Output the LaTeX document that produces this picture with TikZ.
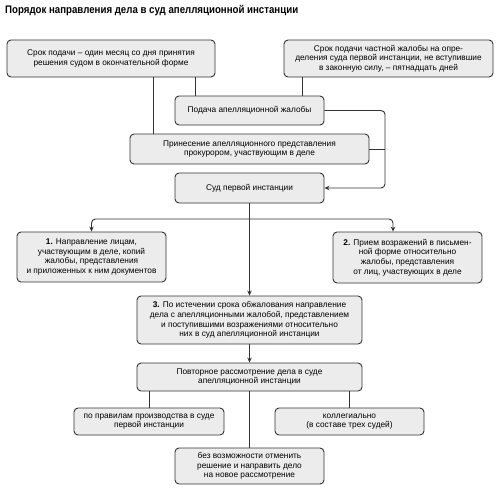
\documentclass[tikz,border=0pt]{standalone}
\usepackage{fontspec}
\setmainfont{Liberation Sans}
\usetikzlibrary{arrows.meta}
\definecolor{boxfill}{HTML}{ECECEC}
\definecolor{boxline}{HTML}{333333}
\tikzset{
  box/.style={draw=boxline, fill=boxfill, line width=0.9pt, rounded corners=4pt,
    align=center, inner sep=1pt, font=\fontsize{8.3}{9.7}\selectfont},
  conn/.style={draw=boxline, line width=0.9pt, rounded corners=4pt},
  arr/.style={conn, -{Stealth[length=5pt,width=4.5pt]}}
}
\begin{document}
\begin{tikzpicture}[x=1pt,y=-1pt]
\useasboundingbox (0,0) rectangle (500,487);
\node[anchor=west, inner sep=0pt] (title) at (5,11) {\scalebox{0.88}[1]{\fontsize{11}{13}\selectfont\bfseries Порядок направления дела в суд апелляционной инстанции}};
\node[box, minimum width=208pt, minimum height=37pt] (a) at (111,58.5)
  {Срок подачи – один месяц со дня принятия\\решения судом в окончательной форме};
\node[box, minimum width=209pt, minimum height=37pt] (b) at (388.5,58.5)
  {Срок подачи частной жалобы на опре-\\деления суда первой инстанции, не вступившие\\в законную силу, – пятнадцать дней};
\node[box, minimum width=149pt, minimum height=29pt] (c) at (249.5,110.5)
  {Подача апелляционной жалобы};
\node[box, minimum width=239pt, minimum height=30pt] (d) at (249.5,149)
  {Принесение апелляционного представления\\прокурором, участвующим в деле};
\node[box, minimum width=149pt, minimum height=30pt] (e) at (249.5,188)
  {Суд первой инстанции};
\node[box, minimum width=149pt, minimum height=50pt] (n1) at (91.5,257)
  {\textbf{1.} Направление лицам,\\участвующим в деле, копий\\жалобы, представления\\и приложенных к ним документов};
\node[box, minimum width=149pt, minimum height=51pt] (n2) at (407.5,257.5)
  {\textbf{2.} Прием возражений в письмен-\\ной форме относительно\\жалобы, представления\\от лиц, участвующих в деле};
\node[box, minimum width=225pt, minimum height=48pt] (n3) at (249.5,320)
  {\textbf{3.} По истечении срока обжалования направление\\дела с апелляционными жалобой, представлением\\и поступившими возражениями относительно\\них в суд апелляционной инстанции};
\node[box, minimum width=225pt, minimum height=28pt] (n4) at (249.5,377)
  {Повторное рассмотрение дела в суде\\апелляционной инстанции};
\node[box, minimum width=150pt, minimum height=27pt] (n5) at (149,421.5)
  {по правилам производства в суде\\первой инстанции};
\node[box, minimum width=149pt, minimum height=27pt] (n6) at (349.5,421.5)
  {коллегиально\\(в составе трех судей)};
\node[box, minimum width=149pt, minimum height=36pt] (n7) at (249.5,466)
  {без возможности отменить\\решение и направить дело\\на новое рассмотрение};
\coordinate (xa) at (153,0);
\coordinate (xb) at (195,0);
\coordinate (xc) at (302,0);
\coordinate (rc) at (385,150);
\coordinate (br) at (249,219);
\coordinate (x2) at (393,0);
\draw[conn] (a.south -| xa) -- (d.north -| xa);
\draw[conn] (a.south -| xb) -- (c.north -| xb);
\draw[conn] (b.south -| xc) -- (c.north -| xc);
\draw[arr] (c.east) -| (rc) |- (e.east);
\draw[conn] (d.east) -- (d.east -| rc);
\draw[arr] (e.south) -- (n3.north);
\draw[arr] (br) -| (n1.north);
\draw[arr] (br) -| (n2.north -| x2);
\draw[arr] (n3.south) -- (n4.north);
\draw[conn] (n4.south -| n5.north) -- (n5.north);
\draw[conn] (n4.south -| n6.north) -- (n6.north);
\draw[conn] (n4.south) -- (n7.north);
\end{tikzpicture}
\end{document}
